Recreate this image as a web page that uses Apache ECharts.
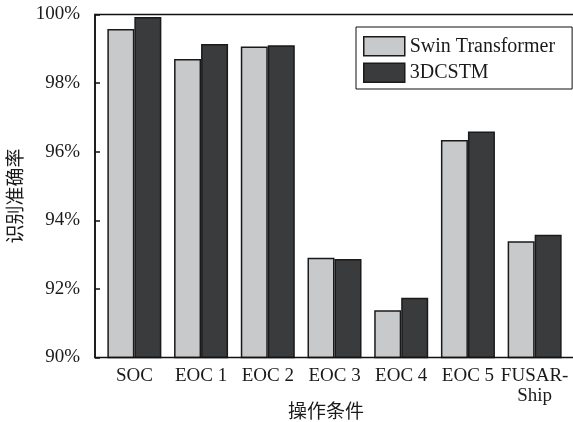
<!DOCTYPE html>
<html>
<head>
<meta charset="utf-8">
<script src="https://cdn.jsdelivr.net/npm/echarts@6/dist/echarts.min.js"></script>
<style>html,body{margin:0;padding:0;background:#fff;}#c{width:573px;height:422px;}</style>
</head>
<body>
<div id="c"></div>
<script>
const categories = ['SOC', 'EOC 1', 'EOC 2', 'EOC 3', 'EOC 4', 'EOC 5', 'FUSAR-\nShip'];
const swinValues = [99.58, 98.70, 99.07, 92.91, 91.38, 96.34, 93.39];
const dcstmValues = [99.93, 99.14, 99.10, 92.87, 91.74, 96.59, 93.58];
const yTickLabels = ['90%', '92%', '94%', '96%', '98%', '100%'];

const serif = '"Liberation Serif", "Times New Roman", serif';
const cjk = '"Noto Sans CJK SC", sans-serif';
const chart = echarts.init(document.getElementById('c'), null, {renderer: 'canvas'});
chart.setOption({
  animation: false,
  backgroundColor: '#fff',
  grid: [
    {left: 101, right: 5, top: 14.5, bottom: 64.5, show: false, outerBoundsMode: 'none', containLabel: false},
    {left: 95, right: -2, top: 14.5, bottom: 64.5, show: true, borderColor: '#111', borderWidth: 1.5, backgroundColor: 'transparent', z: 5, outerBoundsMode: 'none', containLabel: false}
  ],
  legend: {
    orient: 'vertical', left: 356, top: 27,
    icon: 'rect',
    itemWidth: 41, itemHeight: 19, itemGap: 6,
    padding: [9, 17, 6, 7],
    borderColor: '#111', borderWidth: 1, backgroundColor: '#fff',
    itemStyle: {borderColor: '#1a1a1a', borderWidth: 1.5},
    textStyle: {fontFamily: serif, fontSize: 20, lineHeight: 19, color: '#1a1a1a'},
    data: ['Swin Transformer', '3DCSTM']
  },
  xAxis: [
    {
      type: 'category', gridIndex: 0, data: categories,
      axisLine: {show: false}, axisTick: {show: false}, splitLine: {show: false},
      axisLabel: {margin: 9, interval: 0, fontFamily: serif, fontSize: 19, color: '#1a1a1a', lineHeight: 20}
    },
    {
      type: 'value', gridIndex: 1, min: 0, max: 1, show: true,
      axisLine: {show: false}, axisTick: {show: false}, axisLabel: {show: false}, splitLine: {show: false},
      name: '操作条件', nameLocation: 'middle', nameGap: 44,
      nameTextStyle: {fontFamily: cjk, fontSize: 19, color: '#1a1a1a', padding: [0, 18, 0, 0]}
    }
  ],
  yAxis: [
    {type: 'value', gridIndex: 0, min: 90, max: 100, interval: 2, show: false},
    {
      type: 'value', gridIndex: 1, min: 90, max: 100, interval: 2,
      name: '识别准确率', nameLocation: 'middle', nameGap: 61, nameRotate: 90,
      nameTextStyle: {fontFamily: cjk, fontSize: 19, color: '#1a1a1a', padding: [0, 20, 0, 0]},
      axisLine: {show: true, onZero: false, lineStyle: {color: '#111', width: 1.5}},
      axisTick: {show: true, inside: true, length: 5, lineStyle: {color: '#111', width: 1.5}},
      splitLine: {show: false},
      axisLabel: {margin: 15, fontFamily: serif, fontSize: 19, color: '#1a1a1a',
        formatter: v => yTickLabels[Math.round((v - 90) / 2)] || ''}
    }
  ],
  series: [
    {name: 'Swin Transformer', type: 'bar', xAxisIndex: 0, yAxisIndex: 0, barWidth: 27, barGap: '0%',
     itemStyle: {color: '#c8c9cb', borderColor: '#1a1a1a', borderWidth: 1.5},
     data: swinValues},
    {name: '3DCSTM', type: 'bar', xAxisIndex: 0, yAxisIndex: 0, barWidth: 27, barGap: '0%',
     itemStyle: {color: '#3a3b3d', borderColor: '#1a1a1a', borderWidth: 1.5},
     data: dcstmValues}
  ]
});
</script>
</body>
</html>
